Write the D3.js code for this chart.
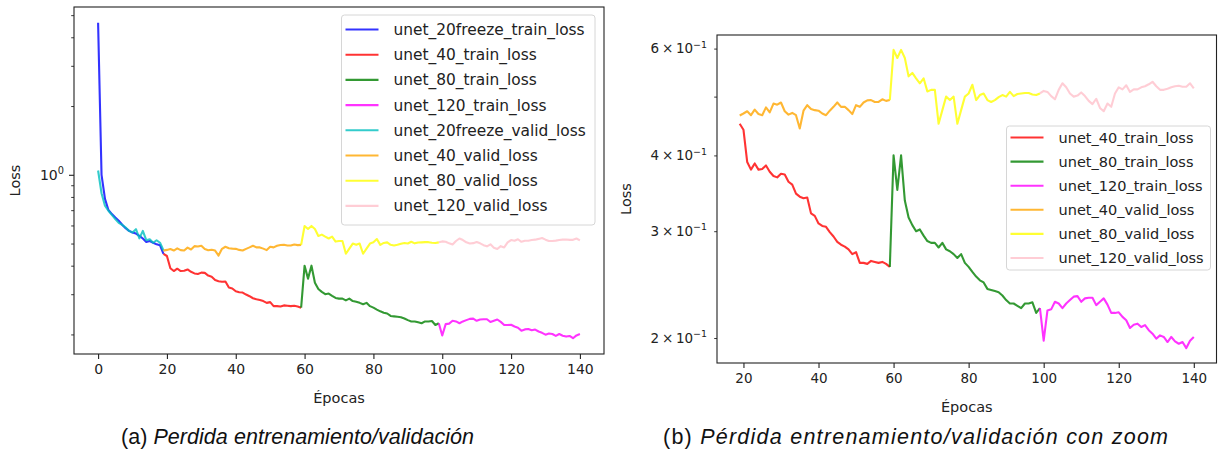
<!DOCTYPE html>
<html>
<head>
<meta charset="utf-8">
<script src="https://cdn.jsdelivr.net/npm/d3@7"></script>
<style>
  body { margin: 0; background: #fff; }
  svg { display: block; }
  .mpl text { font-family: "DejaVu Sans", sans-serif; fill: #222; }
  .caption { font-family: "Liberation Sans", Arial, sans-serif; fill: #111; }
</style>
</head>
<body>
<svg id="chart" width="1218" height="450"></svg>
<script>
// epochs where each run starts
const start20freeze = 0;
const start40 = 19;
const start80 = 59;
const start120 = 99;

// loss values, one per epoch
const unet20freezeTrain = [4.63, 1.0, 0.784, 0.701, 0.673, 0.65, 0.629, 0.604, 0.584, 0.568,
  0.559, 0.553, 0.540, 0.526, 0.508, 0.513, 0.504, 0.496, 0.491, 0.451];
const unet20freezeValid = [1.044, 0.83, 0.732, 0.696, 0.668, 0.64, 0.616, 0.604, 0.588, 0.568,
  0.559, 0.578, 0.527, 0.568, 0.517, 0.522, 0.504, 0.517, 0.504, 0.466];
const unet40Train = [0.451, 0.441, 0.39, 0.379, 0.388, 0.379, 0.38, 0.385, 0.376, 0.37,
  0.368, 0.373, 0.372, 0.362, 0.358, 0.346, 0.342, 0.34, 0.341, 0.321,
  0.318, 0.309, 0.306, 0.305, 0.299, 0.294, 0.288, 0.285, 0.283, 0.280,
  0.275, 0.277, 0.266, 0.266, 0.265, 0.268, 0.267, 0.266, 0.267, 0.265, 0.262];
const unet40Valid = [0.4655, 0.469, 0.473, 0.466, 0.476, 0.468, 0.466, 0.48, 0.471, 0.487,
  0.485, 0.489, 0.473, 0.467, 0.47, 0.466, 0.443, 0.474, 0.484, 0.477,
  0.475, 0.474, 0.469, 0.466, 0.474, 0.481, 0.489, 0.481, 0.481, 0.475,
  0.468, 0.484, 0.481, 0.489, 0.493, 0.4935, 0.49, 0.49, 0.495, 0.492, 0.4935];
const unet80Train = [0.262, 0.40, 0.351, 0.40, 0.337, 0.316, 0.307, 0.300, 0.302, 0.295,
  0.289, 0.287, 0.287, 0.282, 0.287, 0.280, 0.278, 0.275, 0.271, 0.275,
  0.266, 0.262, 0.257, 0.2525, 0.249, 0.247, 0.241, 0.240, 0.239, 0.238,
  0.235, 0.231, 0.228, 0.228, 0.226, 0.224, 0.228, 0.228, 0.229, 0.220, 0.224];
const unet80Valid = [0.4935, 0.597, 0.579, 0.597, 0.579, 0.54, 0.547, 0.536, 0.526, 0.536,
  0.51, 0.513, 0.513, 0.451, 0.475, 0.50, 0.4935, 0.50, 0.451, 0.475,
  0.50, 0.506, 0.523, 0.4935, 0.503, 0.506, 0.4935, 0.49, 0.4935, 0.499,
  0.503, 0.50, 0.509, 0.501, 0.505, 0.506, 0.507, 0.507, 0.504, 0.503, 0.506];
const unet120Train = [0.224, 0.198, 0.222, 0.223, 0.2295, 0.228, 0.224, 0.228, 0.231, 0.234,
  0.2345, 0.2295, 0.2325, 0.233, 0.233, 0.2266, 0.2295, 0.2325, 0.227, 0.220,
  0.220, 0.2205, 0.2167, 0.214, 0.2078, 0.2104, 0.2112, 0.2085, 0.210, 0.206,
  0.2033, 0.1995, 0.202, 0.2008, 0.197, 0.2008, 0.1975, 0.1957, 0.197, 0.1925,
  0.198, 0.2008];
const unet120Valid = [0.506, 0.511, 0.509, 0.501, 0.495, 0.513, 0.526, 0.518, 0.506, 0.50,
  0.502, 0.508, 0.501, 0.492, 0.486, 0.496, 0.479, 0.473, 0.487, 0.481,
  0.506, 0.518, 0.514, 0.522, 0.509, 0.514, 0.514, 0.518, 0.52, 0.524,
  0.529, 0.52, 0.513, 0.513, 0.515, 0.518, 0.52, 0.521, 0.519, 0.519,
  0.526, 0.516];

const xTicksLeft = [0, 20, 40, 60, 80, 100, 120, 140];
const xTicksRight = [20, 40, 60, 80, 100, 120, 140];

const allSeries = [
  { name: "unet_20freeze_train_loss", start: start20freeze, values: unet20freezeTrain, color: "#0000ff" },
  { name: "unet_40_train_loss", start: start40, values: unet40Train, color: "#ff0000" },
  { name: "unet_80_train_loss", start: start80, values: unet80Train, color: "#008000" },
  { name: "unet_120_train_loss", start: start120, values: unet120Train, color: "#ff00ff" },
  { name: "unet_20freeze_valid_loss", start: start20freeze, values: unet20freezeValid, color: "#00bfbf" },
  { name: "unet_40_valid_loss", start: start40, values: unet40Valid, color: "#ffa500" },
  { name: "unet_80_valid_loss", start: start80, values: unet80Valid, color: "#ffff00" },
  { name: "unet_120_valid_loss", start: start120, values: unet120Valid, color: "#ffc0cb" }
];
const zoomSeries = allSeries.filter(s => !s.name.includes("freeze"));

const svg = d3.select("#chart");

function supLabel(g, x, y, base, exp, size) {
  const t = g.append("text")
    .attr("x", x).attr("y", y)
    .attr("text-anchor", "end")
    .style("font-size", size + "px");
  t.append("tspan").text(base);
  t.append("tspan").attr("dy", -size * 0.42).style("font-size", (size * 0.7) + "px").text(exp);
}

function drawPanel(cfg) {
  const g = svg.append("g").attr("class", "mpl");
  const { left, right, top, bottom } = cfg;

  const epochs = cfg.series.flatMap(s => s.values.map((v, i) => s.start + i));
  const e0 = d3.min(epochs), e1 = d3.max(epochs);
  const ePad = (e1 - e0) * 0.05;
  const x = d3.scaleLinear().domain([e0 - ePad, e1 + ePad]).range([left, right]);

  const vals = cfg.series.flatMap(s => s.values);
  const lo = Math.log10(d3.min(vals)), hi = Math.log10(d3.max(vals));
  const pad = (hi - lo) * 0.05;
  const y = d3.scaleLog().domain([10 ** (lo - pad), 10 ** (hi + pad)]).range([bottom, top]);

  const line = d3.line()
    .x(d => x(d.epoch))
    .y(d => y(d.loss));

  cfg.series.forEach(s => {
    const pts = s.values.map((v, i) => ({ epoch: s.start + i, loss: v }));
    g.append("path")
      .datum(pts)
      .attr("d", line)
      .attr("fill", "none")
      .attr("stroke", s.color)
      .attr("stroke-opacity", 0.8)
      .attr("stroke-width", 2.1)
      .attr("stroke-linejoin", "round");
  });

  // x axis
  const xAxis = g.append("g")
    .attr("transform", "translate(0," + bottom + ")")
    .call(d3.axisBottom(x).tickValues(cfg.xTicks).tickSize(5).tickSizeOuter(0).tickPadding(5));
  xAxis.select(".domain").remove();
  xAxis.selectAll(".tick line").attr("stroke", "#222").attr("stroke-width", 1.1);
  xAxis.selectAll(".tick text")
    .style("font-size", cfg.tickSize + "px")
    .style("font-family", '"DejaVu Sans", sans-serif')
    .attr("fill", "#222");

  // y axis minor ticks
  const yMinor = g.append("g")
    .attr("transform", "translate(" + left + ",0)")
    .call(d3.axisLeft(y).tickValues(cfg.yMinor).tickSize(2.8).tickSizeOuter(0).tickFormat(""));
  yMinor.select(".domain").remove();
  yMinor.selectAll(".tick line").attr("stroke", "#222").attr("stroke-width", 0.9);

  if (cfg.yMajor.length) {
    const yMajor = g.append("g")
      .attr("transform", "translate(" + left + ",0)")
      .call(d3.axisLeft(y).tickValues(cfg.yMajor).tickSize(5).tickSizeOuter(0).tickFormat(""));
    yMajor.select(".domain").remove();
    yMajor.selectAll(".tick line").attr("stroke", "#222").attr("stroke-width", 1.1);
  }

  cfg.yLabels.forEach(l => {
    supLabel(g, left - cfg.labelGap, y(l.value) + cfg.tickSize * 0.36, l.base, l.exp, cfg.tickSize);
  });

  // frame
  g.append("rect")
    .attr("x", left).attr("y", top)
    .attr("width", right - left).attr("height", bottom - top)
    .attr("fill", "none").attr("stroke", "#222").attr("stroke-width", 1.1);

  g.append("text")
    .attr("x", (left + right) / 2).attr("y", bottom + 49)
    .attr("text-anchor", "middle")
    .style("font-size", cfg.labelSize + "px")
    .text("Épocas");
  g.append("text")
    .attr("transform", "translate(" + cfg.yLabelX + "," + ((top + bottom) / 2) + ") rotate(-90)")
    .attr("text-anchor", "middle")
    .style("font-size", cfg.labelSize + "px")
    .text("Loss");

  // legend
  const lg = g.append("g");
  lg.append("rect")
    .attr("x", cfg.legend.x).attr("y", cfg.legend.y)
    .attr("width", cfg.legend.w).attr("height", cfg.legend.h)
    .attr("rx", 3)
    .attr("fill", "#fff").attr("fill-opacity", 0.8)
    .attr("stroke", "#d6d6d6").attr("stroke-width", 1);
  cfg.series.forEach((s, i) => {
    const cy = cfg.legend.y + cfg.legend.first + i * cfg.legend.step;
    lg.append("line")
      .attr("x1", cfg.legend.x + 4).attr("x2", cfg.legend.x + 37)
      .attr("y1", cy).attr("y2", cy)
      .attr("stroke", s.color).attr("stroke-opacity", 0.8).attr("stroke-width", 2.1);
    lg.append("text")
      .attr("x", cfg.legend.x + 52).attr("y", cy + cfg.legend.font * 0.36)
      .style("font-size", cfg.legend.font + "px")
      .text(s.name);
  });
}

drawPanel({
  left: 74, right: 604, top: 7, bottom: 354,
  series: allSeries,
  xTicks: xTicksLeft,
  yMajor: [1],
  yMinor: [0.2, 0.3, 0.4, 0.5, 0.6, 0.7, 0.8, 0.9, 2, 3, 4, 5],
  yLabels: [{ value: 1, base: "10", exp: "0" }],
  labelGap: 10,
  tickSize: 14,
  labelSize: 14.5,
  yLabelX: 20,
  legend: { x: 341.5, y: 15, w: 253.5, h: 210, first: 14.5, step: 25.2, font: 15.4 }
});

drawPanel({
  left: 717, right: 1216.5, top: 35, bottom: 363,
  series: zoomSeries,
  xTicks: xTicksRight,
  yMajor: [],
  yMinor: [0.2, 0.3, 0.4, 0.5, 0.6],
  yLabels: [
    { value: 0.2, base: "2\u2009×\u200910", exp: "\u22121" },
    { value: 0.3, base: "3\u2009×\u200910", exp: "\u22121" },
    { value: 0.4, base: "4\u2009×\u200910", exp: "\u22121" },
    { value: 0.6, base: "6\u2009×\u200910", exp: "\u22121" }
  ],
  labelGap: 10,
  tickSize: 13.5,
  labelSize: 14.5,
  yLabelX: 631,
  legend: { x: 1006.5, y: 126, w: 204, h: 144, first: 11.5, step: 24.1, font: 14.5 }
});

// captions under each panel
function caption(cx, width, label, body) {
  const t = svg.append("text")
    .attr("class", "caption")
    .attr("x", cx).attr("y", 444)
    .attr("text-anchor", "middle")
    .attr("textLength", width)
    .attr("lengthAdjust", "spacing")
    .style("font-size", "21.5px");
  t.append("tspan").text(label + " ");
  t.append("tspan").style("font-style", "italic").text(body);
}
caption(297.5, 353, "(a)", "Perdida entrenamiento/validación");
caption(915.5, 505, "(b)", "Pérdida entrenamiento/validación con zoom");
</script>
</body>
</html>
